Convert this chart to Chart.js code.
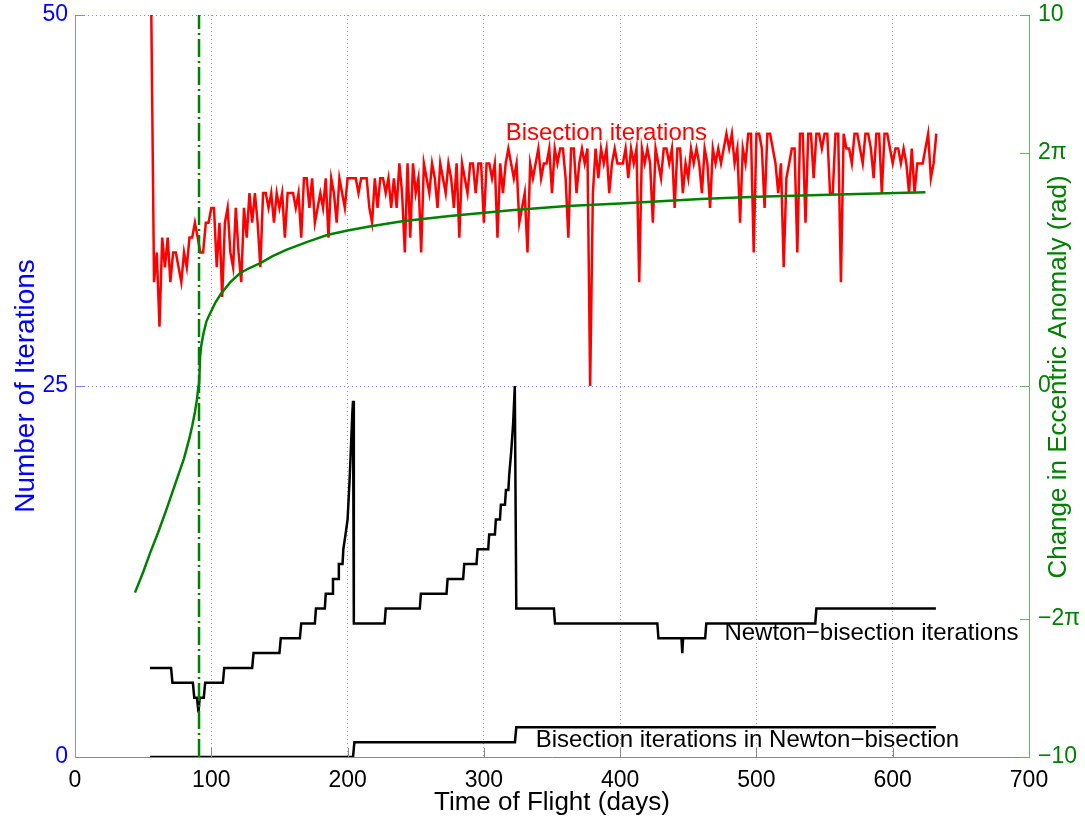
<!DOCTYPE html>
<html>
<head>
<meta charset="utf-8">
<title>Iterations vs time of flight</title>
<script src="https://cdn.jsdelivr.net/npm/chart.js@4.4.1/dist/chart.umd.min.js"></script>
<style>
  body { margin: 0; background: #fff; }
  canvas { display: block; }
</style>
</head>
<body>
<canvas id="framus" width="1085" height="819"></canvas>
<script>
// axes
const xTicks = [0, 100, 200, 300, 400, 500, 600, 700];
const leftTicks = [0, 25, 50];
const rightTickValues = [-10, -2 * Math.PI, 0, 2 * Math.PI, 10];
const rightTickLabels = ['\u221210', '\u22122\u03c0', '0', '2\u03c0', '10'];

// red: plain bisection iterations, one reading every 2 days starting at day 56
const bisStartDay = 56;
const bisStepDays = 2;
const bisIters = [
  50, 32, 34, 29, 35, 33, 35, 32, 34, 34, 33, 32, 34, 33, 35, 35, 36, 35, 34, 34,
  36, 36, 37, 37, 33, 36, 31,
  36, 37, 34, 33, 37, 34, 32, 37, 35, 38, 36, 38, 36, 33, 38, 38, 37, 38, 36, 38,
  37, 38, 35, 38, 38, 38, 37, 38, 35, 39, 39, 37, 39, 36, 37, 38, 37, 39, 35, 39,
  38, 36, 39, 38, 37,
  39, 39, 39, 39, 38, 39, 39, 39, 37, 36, 39, 37, 39, 39, 38, 39, 37, 39, 37, 40,
  38, 34, 40, 35, 40, 38, 39, 34, 40, 39, 38, 40, 39, 37, 40, 39, 38, 40, 39, 37,
  40, 35, 40, 39, 38, 40, 40, 38, 40, 40, 36, 40, 40, 39, 40, 35, 40, 38, 40, 41,
  40, 39, 40, 36, 37, 38, 34, 40, 39, 40, 41, 39, 40,
  40, 41, 38, 41, 40, 41, 41, 39, 35, 41, 41, 38, 40, 41, 40, 41, 25, 38, 41, 39,
  41, 40, 41, 38, 40, 41, 40, 40, 40, 41, 39, 41, 40, 41, 32, 41, 40, 41, 40, 36,
  41, 40, 39, 41, 41, 40, 41, 37, 41, 41, 38, 40, 39, 41, 40, 41, 40, 38, 41, 40,
  37, 41, 40, 41, 40, 41, 42, 41, 42, 40, 41, 36,
  41, 40, 42, 42, 34, 42, 42, 41, 37, 42, 42, 41, 40, 38, 40, 33, 39, 40, 41, 41,
  34, 42, 42, 36, 42, 42, 39, 42, 42, 41, 42, 42, 38, 38, 42, 42, 32, 42, 41, 41,
  40, 42, 42, 41, 40, 42, 42, 41, 39, 42, 42, 38, 42, 42, 41, 40, 41, 41, 40, 41,
  40, 38, 41, 38, 40, 40, 40, 41, 42, 39, 40, 42
];

// green: change in eccentric anomaly (rad), right axis
const eaDays = [44, 50, 55, 61, 67, 73, 80, 84, 86, 88, 89.5, 90.4, 91.1, 91.8, 92.6,
  94.3, 96.5, 99.2, 103, 107, 114, 121, 128, 136, 145, 155, 170, 185, 200, 215, 240,
  275, 320, 361, 400, 459, 500, 560, 624];
const eaRad = [-5.57, -5.02, -4.51, -3.95, -3.34, -2.70, -1.95, -1.40, -1.08, -0.70,
  -0.36, -0.06, 0.08, 0.79, 1.08, 1.42, 1.75, 1.96, 2.25, 2.48, 2.80, 3.04, 3.18, 3.31,
  3.50, 3.67, 3.88, 4.07, 4.19, 4.29, 4.44, 4.58, 4.74, 4.85, 4.92, 5.04, 5.10, 5.16, 5.22];

// dash-dot marker day
const markerDay = 91;

// black: Newton-bisection iterations
const nbDays = [55, 70.5, 71.5, 86.5, 87.5, 89.5, 90.6, 91.5, 94.5, 95.5, 108.5, 109.5,
  130, 131, 150, 151, 165, 166, 176, 176.8, 183.3, 184, 188.7, 189.3, 193, 193.6, 196.3,
  196.9, 198.5, 200, 201.5, 202.5, 203.5, 204, 204.6, 227.2, 228, 253, 253.8, 272.6,
  273.4, 284.8, 285.6, 294.6, 295.4, 303.2, 303.9, 308.1, 308.8, 311.8, 312.5, 315.5,
  316.2, 318, 318.6, 320, 321.5, 322.7, 323.8, 351.4, 352.2, 427.3, 428.1, 445, 445.6,
  446.2, 462.4, 463.2, 543.2, 544, 631.7];
const nbIters = [6, 6, 5, 5, 4, 4, 3, 4, 4, 5, 5, 6,
  6, 7, 7, 8, 8, 9, 9, 10, 10, 11, 11, 12, 12, 13, 13,
  14, 15, 16, 18.7, 20.9, 23.2, 24, 9, 9, 10, 10, 11, 11,
  12, 12, 13, 13, 14, 14, 15, 15, 16, 16, 17, 17,
  18, 18, 19, 20.5, 22.5, 25, 10, 10, 9, 9, 8, 8, 7,
  8, 8, 9, 9, 10, 10];

// black: bisection iterations inside Newton-bisection
const bnbDays = [55, 204, 205, 322.8, 323.8, 631.7];
const bnbIters = [0, 0, 1, 1, 2, 2];

const notes = [
  { text: 'Bisection iterations', day: 316, iter: 42, color: '#ff0000' },
  { text: 'Newton\u2212bisection iterations', day: 476.5, iter: 8.3, color: '#000000' },
  { text: 'Bisection iterations in Newton\u2212bisection', day: 338, iter: 1.1, color: '#000000' }
];

const fontFam = '"Liberation Sans", Arial, sans-serif';
Chart.defaults.font.family = fontFam;

function pairs(xs, ys) {
  return xs.map((d, i) => ({ x: d, y: ys[i] }));
}

// fixed box sizes so the plot area sits where the original's does
function fixWidth(w) {
  return s => { s.width = w; s.paddingTop = 0; s.paddingBottom = 0; };
}

// inward tick marks, text labels and the two y titles
const extras = {
  id: 'extras',
  afterDatasetsDraw(chart) {
    const { ctx, chartArea: a, scales: { x, y, y2 } } = chart;
    ctx.save();
    ctx.lineWidth = 1;
    function seg(x1, y1, x2, y2_) {
      ctx.beginPath(); ctx.moveTo(x1, y1); ctx.lineTo(x2, y2_); ctx.stroke();
    }
    ctx.strokeStyle = '#888888';
    xTicks.forEach(v => {
      if (v > 0 && v < 700) {
        const px = Math.round(x.getPixelForValue(v)) + 0.5;
        seg(px, a.bottom, px, a.bottom - 9);
      }
    });
    ctx.strokeStyle = '#8080ff';
    leftTicks.forEach(v => {
      if (v > 0) {
        const py = Math.round(y.getPixelForValue(v)) + 0.5;
        seg(a.left, py, a.left + 9, py);
      }
    });
    ctx.strokeStyle = '#66b366';
    rightTickValues.forEach(v => {
      const py = Math.round(y2.getPixelForValue(v)) + 0.5;
      seg(a.right, py, a.right - 9, py);
    });

    ctx.font = '24px ' + fontFam;
    ctx.textBaseline = 'middle';
    ctx.textAlign = 'left';
    notes.forEach(n => {
      ctx.fillStyle = n.color;
      ctx.fillText(n.text, x.getPixelForValue(n.day), y.getPixelForValue(n.iter));
    });

    ctx.textAlign = 'center';
    ctx.textBaseline = 'alphabetic';
    ctx.save();
    ctx.font = '28px ' + fontFam;
    ctx.translate(34, (a.top + a.bottom) / 2);
    ctx.rotate(-Math.PI / 2);
    ctx.fillStyle = '#0000ff';
    ctx.fillText('Number of Iterations', 0, 0);
    ctx.restore();
    ctx.save();
    ctx.font = '26px ' + fontFam;
    ctx.translate(1066, 377);
    ctx.rotate(-Math.PI / 2);
    ctx.fillStyle = '#008000';
    ctx.fillText('Change in Eccentric Anomaly (rad)', 0, 0);
    ctx.restore();
    ctx.restore();
  }
};

const mycanvas = document.getElementById('framus');
new Chart(mycanvas, {
  type: 'line',
  data: {
    datasets: [
      {
        data: [{ x: markerDay, y: -10 }, { x: markerDay, y: 10 }],
        yAxisID: 'y2', borderColor: '#008000', borderWidth: 2.5,
        borderDash: [18, 4, 2, 4]
      },
      {
        data: pairs(eaDays, eaRad),
        yAxisID: 'y2', borderColor: '#008000', borderWidth: 2.5
      },
      {
        data: bisIters.map((v, i) => ({ x: bisStartDay + i * bisStepDays, y: v })),
        yAxisID: 'y', borderColor: '#ff0000', borderWidth: 2.5
      },
      {
        data: pairs(nbDays, nbIters),
        yAxisID: 'y', borderColor: '#000000', borderWidth: 2.5
      },
      {
        data: pairs(bnbDays, bnbIters),
        yAxisID: 'y', borderColor: '#000000', borderWidth: 2.5
      }
    ]
  },
  options: {
    responsive: false,
    animation: false,
    elements: { point: { radius: 0 }, line: { tension: 0, fill: false } },
    plugins: { legend: { display: false }, tooltip: { enabled: false } },
    layout: { padding: { top: 15, left: 0, right: 0, bottom: 0 } },
    scales: {
      x: {
        type: 'linear', min: 0, max: 700,
        afterBuildTicks: s => { s.ticks = xTicks.map(v => ({ value: v })); },
        afterFit: s => { s.height = 62; s.paddingLeft = 0; s.paddingRight = 0; },
        ticks: { color: '#000', font: { size: 23 }, padding: 10, maxRotation: 0, autoSkip: false },
        grid: {
          drawTicks: false, lineWidth: 1,
          color: c => (c.tick && (c.tick.value === 0 || c.tick.value === 700)) ? 'rgba(0,0,0,0)' : '#a0a0a0'
        },
        border: { color: '#888888', width: 1, dash: [1, 3] },
        title: {
          display: true, text: 'Time of Flight (days)', color: '#000',
          font: { size: 26 }, padding: { top: 0, bottom: 1 }
        }
      },
      y: {
        type: 'linear', position: 'left', min: 0, max: 50,
        afterBuildTicks: s => { s.ticks = leftTicks.map(v => ({ value: v })); },
        afterFit: fixWidth(75),
        ticks: { color: '#0000ff', font: { size: 23 }, padding: 7, autoSkip: false },
        grid: {
          drawTicks: false, lineWidth: 1,
          color: c => (c.tick && c.tick.value === 0) ? 'rgba(0,0,0,0)' : '#8080ff'
        },
        border: { color: '#8a8aff', width: 1, dash: [1, 3] }
      },
      y2: {
        type: 'linear', position: 'right', min: -10, max: 10,
        afterBuildTicks: s => { s.ticks = rightTickValues.map(v => ({ value: v })); },
        afterFit: fixWidth(56),
        ticks: {
          color: '#008000', font: { size: 23 }, padding: 9, autoSkip: false,
          callback: v => rightTickLabels[rightTickValues.indexOf(v)]
        },
        grid: { display: false, drawTicks: false },
        border: { color: '#66b366', width: 1 }
      }
    }
  },
  plugins: [extras]
});
</script>
</body>
</html>
